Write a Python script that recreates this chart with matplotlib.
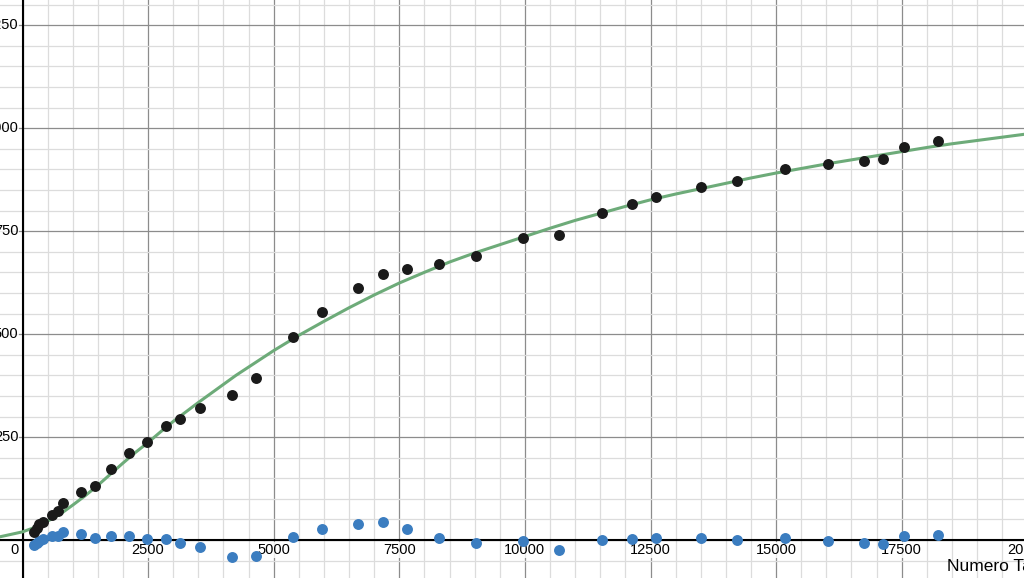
import matplotlib
matplotlib.use("Agg")
import matplotlib.pyplot as plt
from matplotlib.ticker import MultipleLocator
from matplotlib.transforms import offset_copy

plt.rcParams["font.family"] = ["Liberation Sans", "DejaVu Sans"]

# observed data (black) and residuals (blue)
data_x = [235, 283, 328, 414, 581, 700, 812, 1164, 1443, 1761, 2120, 2478,
          2856, 3135, 3533, 4170, 4647, 5378, 5955, 6684, 7181, 7647, 8296,
          9020, 9956, 10684, 11528, 12125, 12609, 13505, 14228, 15177, 16039,
          16748, 17133, 17552, 18217]
data_y = [19, 29, 38, 43, 62, 70, 89, 117, 131, 172, 211, 238,
          277, 294, 320, 352, 393, 493, 554, 613, 647, 658, 669,
          690, 734, 740, 794, 815, 832, 857, 872, 900, 913,
          921, 925, 954, 969]
resid_y = [-12, -8, -2, 2, 11, 10, 20, 16, 4, 10, 10, 3,
           2, -6, -17, -41, -38, 7, 26, 39, 43, 28, 6,
           -6, -2, -24, 0, 2, 4, 4, 0, 4, -2,
           -8, -10, 10, 13]

# fitted curve (green)
fit_x = [-450, 0, 250, 500, 750, 1000, 1250, 1500, 1750, 2000, 2250, 2500,
         2750, 3000, 3250, 3500, 3750, 4000, 4250, 4500, 4750, 5000, 5500,
         6000, 6500, 7000, 7500, 8000, 8500, 9000, 9500, 10000, 10500, 11000,
         11500, 12000, 12500, 13000, 13500, 14000, 14500, 15000, 15500, 16000,
         16500, 17000, 17500, 18000, 18500, 19000, 19500, 20000]
fit_y = [8, 20, 31, 46, 63, 85, 108, 133, 160, 187, 213, 237,
         263, 288, 311, 334, 356, 378, 400, 420, 440, 460, 497,
         531, 564, 595, 624, 650, 675, 697, 717, 737, 757, 776,
         793, 810, 826, 840, 853, 866, 879, 891, 902, 913,
         923, 933, 943, 953, 962, 970, 978, 986]

x_ticks = [2500, 5000, 7500, 10000, 12500, 15000, 17500, 20000]
y_ticks = [250, 500, 750, 1000, 1250]

fig = plt.figure(figsize=(10.24, 5.78), dpi=100)
ax = fig.add_axes([0, 0, 1, 1])
ax.set_xlim(-448, 19934)
ax.set_ylim(-92, 1311)

ax.xaxis.set_major_locator(MultipleLocator(2500))
ax.xaxis.set_minor_locator(MultipleLocator(500))
ax.yaxis.set_major_locator(MultipleLocator(250))
ax.yaxis.set_minor_locator(MultipleLocator(50))
ax.grid(which="minor", color="#dcdcdc", linewidth=0.9)
ax.grid(which="major", color="#8c8c8c", linewidth=0.9)
ax.tick_params(which="both", length=0, labelbottom=False, labelleft=False)
for s in ax.spines.values():
    s.set_visible(False)

ax.axhline(0, color="black", linewidth=1.5, zorder=1.7)
ax.axvline(0, color="black", linewidth=1.5, zorder=1.7)

# tick labels with a white halo, over the grid but under the marks
halo = dict(facecolor="white", edgecolor="none", pad=0.5, alpha=0.85)
tr_x = offset_copy(ax.transData, fig=fig, x=0, y=-10, units="dots")
for t in x_ticks:
    ax.text(t, 0, str(t), transform=tr_x, ha="center", va="center",
            fontsize=10.5, bbox=halo, zorder=1.8)
tr_0 = offset_copy(ax.transData, fig=fig, x=-8, y=-10, units="dots")
ax.text(0, 0, "0", transform=tr_0, ha="center", va="center",
        fontsize=10.5, bbox=halo, zorder=1.8)
tr_y = offset_copy(ax.transData, fig=fig, x=-4, y=0, units="dots")
for t in y_ticks:
    ax.text(0, t, str(t), transform=tr_y, ha="right", va="center",
            fontsize=10.5, bbox=halo, zorder=1.8)

ax.plot(fit_x, fit_y, color="#6dab79", linewidth=2.2, zorder=2)
ax.scatter(data_x, resid_y, s=62, color="#3b7dc0", linewidth=0, zorder=3)
ax.scatter(data_x, data_y, s=62, color="#1a1a1a", linewidth=0, zorder=4)

fig.text(947 / 1024, 1 - 567 / 578, "Numero Tamponi", fontsize=12.5,
         ha="left", va="center")

fig.savefig("out.png", dpi=100)
